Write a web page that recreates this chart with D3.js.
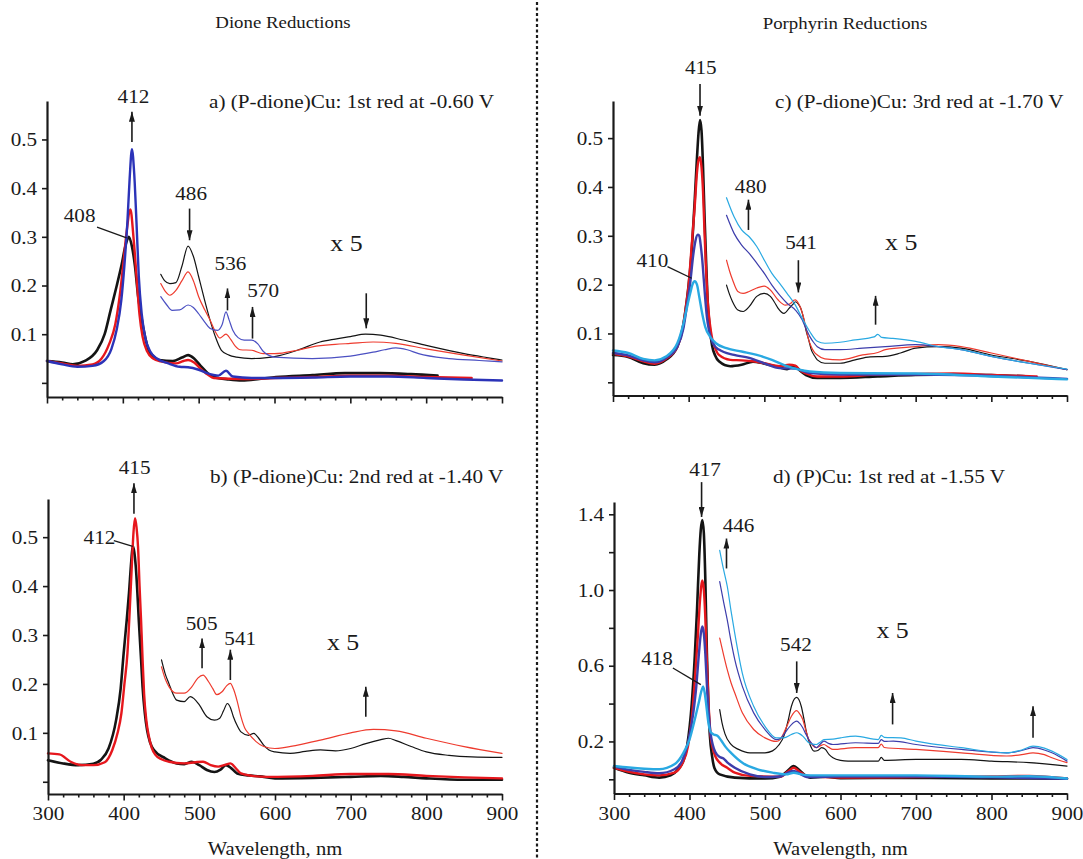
<!DOCTYPE html>
<html><head><meta charset="utf-8">
<script src="https://cdn.jsdelivr.net/npm/d3@7"></script>
<style>
body{margin:0;background:#fff;}
svg{display:block;}
text{font-family:"Liberation Serif","Times New Roman",serif;fill:#1a1a1a;}
</style></head><body>
<svg id="chart" width="1083" height="859"></svg>
<script>
// ---------------- DATA (wavelength nm, absorbance) ----------------
// Panel a: (P-dione)Cu 1st reduction
const aBlack = [[300,.045],[320,.042],[334,.038],[350,.045],[366,.067],[376,.1],[384,.15],[392,.2],[398,.24],[404,.285],[408,.30],[412,.28],[416,.24],[420,.18],[425,.13],[430,.09],[434,.067],[440,.055],[448,.047],[466,.045],[478,.052],[486,.057],[494,.05],[502,.036],[512,.02],[520,.012],[540,.007],[557,.005],[580,.008],[602,.012],[650,.016],[693,.02],[739,.02],[780,.018],[815,.015]];
const aRed = [[300,.045],[320,.04],[340,.035],[360,.038],[372,.05],[382,.08],[390,.12],[396,.18],[401,.25],[405,.31],[410,.356],[414,.3],[418,.22],[422,.14],[426,.095],[432,.065],[440,.05],[450,.044],[470,.04],[480,.045],[486,.047],[494,.042],[502,.03],[512,.017],[520,.01],[560,.008],[600,.01],[650,.012],[700,.015],[750,.015],[800,.012],[860,.01]];
const aBlue = [[300,.045],[320,.038],[340,.033],[360,.035],[375,.045],[385,.07],[392,.11],[398,.17],[402,.24],[406,.33],[409,.42],[412,.48],[415,.43],[418,.33],[421,.22],[425,.14],[430,.09],[436,.065],[445,.05],[460,.04],[475,.033],[486,.032],[500,.027],[515,.018],[526,.015],[536,.025],[545,.013],[570,.01],[600,.01],[650,.011],[700,.013],[750,.013],[800,.01],[850,.007],[900,.005]];
const aBlackX5 = [[450,.223],[455,.21],[462,.204],[470,.206],[478,.24],[486,.281],[493,.26],[500,.218],[507,.175],[515,.129],[522,.095],[530,.067],[540,.057],[550,.053],[570,.05],[590,.052],[600,.054],[630,.067],[660,.084],[680,.09],[700,.095],[720,.1],[740,.098],[770,.088],[800,.077],[850,.06],[880,.052],[900,.047]];
const aRedX5 = [[450,.204],[456,.188],[462,.18],[470,.19],[478,.21],[486,.228],[493,.21],[500,.177],[508,.15],[515,.129],[522,.105],[528,.092],[536,.10],[542,.09],[548,.076],[555,.068],[570,.067],[585,.06],[600,.06],[630,.067],[650,.074],[680,.079],[700,.081],[730,.084],[760,.081],[800,.07],[850,.057],[900,.045]];
const aBlueX5 = [[450,.177],[458,.16],[465,.149],[475,.15],[486,.16],[493,.155],[500,.142],[508,.125],[515,.112],[525,.108],[531,.12],[536,.146],[540,.13],[545,.108],[552,.093],[560,.088],[570,.088],[578,.08],[585,.065],[592,.057],[600,.053],[650,.05],[700,.055],[730,.063],[745,.068],[760,.072],[775,.068],[790,.06],[830,.05],[870,.046],[900,.043]];

// Panel b: (P-dione)Cu 2nd reduction
const bBlack = [[300,.044],[320,.0375],[340,.034],[360,.037],[370,.045],[380,.068],[390,.126],[396,.19],[400,.263],[404,.33],[407,.385],[410,.45],[412,.482],[414,.47],[416,.44],[418,.39],[420,.33],[423,.25],[425,.194],[428,.14],[431,.105],[435,.08],[440,.065],[455,.048],[470,.0375],[480,.036],[490,.041],[500,.034],[510,.024],[520,.02],[528,.025],[535,.034],[542,.028],[550,.017],[565,.013],[580,.011],[600,.007],[650,.008],[700,.01],[740,.012],[770,.01],[800,.007],[850,.004],[900,.004]];
const bRed = [[300,.058],[315,.056],[330,.041],[345,.034],[360,.034],[375,.04],[385,.065],[392,.1],[397,.14],[401,.2],[405,.263],[408,.35],[411,.45],[413,.51],[415,.539],[417,.52],[419,.48],[421,.4],[423,.33],[425,.25],[427,.18],[430,.125],[433,.095],[437,.07],[442,.055],[450,.046],[460,.041],[480,.0375],[495,.04],[505,.041],[515,.034],[525,.031],[535,.035],[541,.0375],[548,.028],[555,.017],[570,.012],[590,.01],[650,.012],[700,.016],[750,.016],[800,.012],[850,.009],[900,.007]];
const bBlackX5 = [[450,.249],[455,.22],[460,.2],[465,.18],[470,.167],[480,.164],[488,.174],[493,.17],[500,.157],[510,.133],[520,.126],[527,.13],[532,.145],[537,.16],[541,.152],[545,.133],[550,.115],[555,.102],[565,.095],[572,.099],[578,.09],[585,.075],[592,.065],[600,.061],[620,.058],[640,.062],[660,.065],[680,.063],[700,.068],[720,.078],[740,.086],[750,.089],[760,.084],[780,.072],[800,.061],[830,.054],[860,.051],[900,.05]];
const bRedX5 = [[450,.235],[455,.21],[460,.194],[470,.181],[480,.181],[490,.194],[498,.212],[505,.218],[512,.205],[518,.19],[523,.178],[530,.184],[536,.196],[541,.201],[545,.19],[550,.165],[555,.133],[560,.11],[565,.099],[575,.082],[585,.072],[600,.068],[630,.075],[660,.085],[700,.1],[730,.107],[760,.104],[800,.089],[850,.072],[900,.058]];

// Panel c: (P-dione)Cu 3rd reduction
const cBlack = [[300,.056],[320,.052],[340,.039],[355,.036],[370,.046],[385,.073],[392,.11],[396,.15],[400,.2],[404,.27],[408,.373],[411,.46],[413,.51],[415,.537],[417,.515],[419,.44],[421,.339],[423,.25],[425,.169],[428,.11],[431,.075],[435,.055],[440,.043],[455,.033],[470,.036],[485,.042],[495,.04],[505,.036],[515,.033],[530,.027],[537,.032],[541,.033],[547,.024],[555,.015],[570,.009],[600,.009],[650,.012],[700,.015],[750,.016],[800,.015],[850,.012]];
const cRed = [[300,.0585],[320,.053],[340,.043],[355,.038],[370,.048],[385,.073],[392,.11],[396,.15],[400,.2],[404,.28],[408,.36],[411,.43],[413,.455],[415,.461],[417,.44],[419,.39],[421,.305],[423,.23],[425,.169],[428,.12],[431,.09],[435,.07],[440,.056],[455,.046],[470,.045],[485,.043],[500,.039],[520,.033],[533,.036],[541,.034],[547,.025],[555,.018],[570,.012],[600,.012],[650,.016],[700,.017],[750,.018],[800,.015],[860,.012]];
const cBlue = [[300,.06],[320,.055],[340,.045],[355,.041],[370,.05],[385,.073],[393,.11],[398,.16],[402,.203],[406,.26],[409,.29],[412,.302],[414,.3],[416,.28],[418,.25],[420,.21],[422,.169],[424,.135],[427,.105],[432,.08],[440,.067],[460,.056],[480,.05],[500,.039],[520,.029],[541,.028],[560,.019],[600,.016],[700,.016],[800,.013],[900,.007]];
const cCyan = [[300,.065],[320,.06],[340,.048],[355,.045],[370,.053],[385,.08],[393,.12],[398,.155],[402,.182],[405,.2],[408,.207],[411,.2],[414,.175],[418,.14],[422,.113],[428,.094],[436,.08],[450,.07],[470,.063],[490,.056],[510,.046],[530,.033],[560,.022],[600,.019],[700,.018],[800,.012],[900,.006]];
const cBlackX5 = [[450,.199],[454,.18],[458,.165],[465,.148],[472,.145],[480,.155],[490,.176],[500,.182],[508,.176],[513,.165],[518,.152],[526,.141],[533,.152],[538,.16],[541,.165],[545,.16],[548,.152],[552,.13],[555,.107],[559,.085],[562,.067],[566,.055],[570,.046],[580,.039],[600,.039],[620,.046],[640,.052],[660,.053],[680,.06],[700,.07],[730,.073],[760,.07],[800,.056],[850,.043],[900,.026]];
const cRedX5 = [[450,.25],[454,.228],[458,.21],[465,.186],[472,.182],[480,.186],[490,.193],[500,.197],[508,.189],[518,.169],[528,.158],[535,.162],[539,.168],[541,.169],[545,.162],[548,.152],[552,.132],[555,.111],[558,.09],[562,.073],[566,.062],[570,.056],[580,.048],[600,.046],[630,.056],[650,.061],[660,.067],[700,.073],[730,.077],[760,.073],[800,.06],[850,.043],[900,.026]];
const cBlueX5 = [[450,.342],[460,.305],[470,.281],[480,.264],[490,.244],[500,.223],[510,.199],[520,.179],[530,.162],[541,.148],[550,.128],[555,.11],[560,.094],[565,.082],[570,.073],[580,.067],[600,.067],[630,.07],[660,.073],[700,.077],[730,.073],[760,.067],[800,.053],[850,.039],[900,.026]];
const cCyanX5 = [[450,.378],[460,.339],[470,.312],[480,.298],[490,.278],[500,.25],[510,.223],[520,.203],[530,.182],[541,.158],[550,.131],[560,.104],[570,.084],[580,.08],[600,.082],[620,.087],[645,.093],[650,.098],[655,.092],[670,.09],[700,.084],[730,.073],[760,.067],[800,.053],[850,.039],[900,.027]];

// Panel d: (P)Cu 1st reduction
const dBlack = [[300,.061],[320,.035],[340,.021],[360,.009],[375,.021],[385,.053],[392,.1],[397,.18],[403,.40],[407,.65],[410,.9],[413,1.19],[415,1.32],[417,1.37],[419,1.3],[421,1.05],[423,.67],[425,.4],[427,.23],[430,.12],[433,.06],[440,.026],[460,.009],[500,.004],[520,.014],[530,.045],[538,.07],[545,.05],[552,.025],[560,.009],[580,.014],[600,.006],[700,.007],[800,.005],[900,.003]];
const dRed = [[300,.061],[320,.04],[340,.026],[360,.021],[380,.035],[390,.079],[398,.175],[403,.32],[407,.52],[411,.754],[414,.95],[417,1.05],[419,1.0],[421,.85],[423,.62],[425,.42],[428,.228],[431,.16],[434,.123],[440,.088],[450,.061],[460,.035],[480,.018],[520,.014],[530,.04],[538,.061],[546,.04],[555,.018],[600,.009],[700,.012],[800,.015],[850,.018],[900,.004]];
const dBlue = [[300,.067],[320,.05],[340,.039],[360,.032],[380,.053],[390,.096],[398,.193],[405,.35],[409,.49],[412,.64],[415,.77],[417,.807],[419,.77],[421,.66],[423,.5],[425,.37],[428,.24],[431,.18],[434,.145],[440,.118],[445,.11],[450,.09],[460,.061],[480,.026],[500,.012],[520,.015],[530,.035],[538,.044],[546,.03],[555,.012],[600,.014],[700,.014],[800,.01],[900,.003]];
const dCyan = [[300,.07],[320,.062],[340,.056],[360,.053],[380,.079],[392,.14],[400,.21],[407,.316],[412,.40],[416,.47],[418,.49],[420,.46],[422,.40],[425,.3],[428,.25],[432,.237],[437,.23],[442,.205],[448,.17],[455,.14],[470,.088],[490,.053],[510,.035],[528,.026],[538,.035],[548,.026],[560,.021],[600,.021],[700,.021],[800,.014],[850,.016],[900,.004]];
const dBlackX5 = [[440,.368],[443,.3],[447,.24],[455,.184],[465,.158],[480,.14],[500,.14],[510,.15],[518,.18],[525,.228],[530,.3],[535,.386],[539,.425],[542,.433],[545,.42],[548,.386],[552,.31],[555,.246],[560,.18],[565,.149],[570,.152],[575,.167],[580,.158],[585,.13],[590,.114],[600,.1],[610,.096],[650,.096],[654,.116],[658,.1],[700,.105],[760,.105],[800,.096],[850,.088],[900,.07]];
const dRedX5 = [[440,.746],[445,.66],[450,.579],[455,.51],[460,.456],[470,.351],[485,.263],[500,.219],[515,.2],[520,.21],[525,.246],[530,.29],[535,.333],[542,.363],[546,.345],[550,.316],[554,.26],[558,.21],[563,.18],[568,.167],[573,.176],[578,.184],[584,.17],[590,.158],[620,.167],[650,.167],[654,.186],[658,.168],[700,.158],[760,.14],[820,.123],[840,.13],[855,.14],[870,.13],[880,.114],[900,.088]];
const dBlueX5 = [[440,1.044],[445,.94],[450,.842],[455,.73],[460,.632],[470,.491],[485,.351],[500,.263],[515,.21],[520,.215],[525,.237],[530,.265],[535,.289],[542,.307],[546,.295],[550,.272],[554,.24],[558,.21],[563,.185],[568,.167],[573,.185],[578,.202],[584,.19],[590,.184],[620,.193],[650,.19],[654,.21],[658,.2],[670,.202],[700,.184],[760,.158],[820,.14],[840,.152],[855,.167],[870,.155],[880,.14],[900,.096]];
const dCyanX5 = [[440,1.21],[445,1.11],[450,1.02],[455,.89],[460,.77],[470,.56],[485,.386],[500,.28],[515,.219],[525,.219],[535,.237],[542,.246],[546,.24],[550,.228],[554,.21],[558,.193],[563,.186],[568,.184],[573,.196],[578,.21],[590,.212],[600,.219],[620,.228],[650,.21],[654,.232],[658,.222],[680,.219],[700,.202],[760,.167],[820,.14],[840,.155],[855,.175],[870,.165],[880,.149],[900,.105]];

// Axis ticks
const xMajorTicks = [300,400,500,600,700,800,900];
const xMinorTicks = [320,340,360,380,420,440,460,480,520,540,560,580,620,640,660,680,720,740,760,780,820,840,860,880];
const yTicksSmall = [0,0.1,0.2,0.3,0.4,0.5];
const yLabelsSmall = [0.1,0.2,0.3,0.4,0.5];
const yTicksBig = [0,0.2,0.4,0.6,0.8,1.0,1.2,1.4];
const yLabelsBig = [0.2,0.6,1.0,1.4];

// Titles and annotations [text, wavelength, absorbance]
const panelTitles = ["a) (P-dione)Cu: 1st red at -0.60 V","b) (P-dione)Cu: 2nd red at -1.40 V","c) (P-dione)Cu: 3rd red at -1.70 V","d) (P)Cu: 1st red at -1.55 V"];
const aLabels = [["412",414,.574],["408",343,.33],["486",490,.375],["536",542,.232],["570",585,.177]];
const aArrows = [[412,.495,.557],[488,.358,.293],[538,.149,.194],[571,.091,.156],[721,.184,.112]];
const aLeaders = [[366,.32,405,.298]];
const aX5 = [695,.27];
const bLabels = [["415",414.5,.63],["412",368,.486],["505",503,.31],["541",554,.28]];
const bArrows = [[413.6,.548,.61],[503.6,.232,.293],[541,.208,.27],[720,.133,.194]];
const bLeaders = [[387,.493,412,.481]];
const bX5 = [690,.27];
const cLabels = [["415",416,.631],["410",352,.237],["480",482,.388],["541",548.5,.272]];
const cArrows = [[415,.611,.546],[479,.312,.374],[545,.25,.184],[647,.118,.177]];
const cLeaders = [[372,.237,404,.213]];
const cX5 = [681,.271];
const dLabels = [["417",420.6,1.6],["446",465,1.307],["418",357,.605],["542",541,.68]];
const dArrows = [[416,1.57,1.386],[449,1.114,1.272],[542,.623,.456],[669,.29,.456],[855,.219,.386]];
const dLeaders = [[378,.588,415,.5]];
const dX5 = [669,.746];

// ---------------- DRAWING ----------------
const C = {black:"#141414", red:"#e6171d", redThin:"#ee3b2e", blue:"#2b33b8", blueThin:"#4b50c2", indigo:"#3d3dab", cyan:"#29a9e2"};
const SX = 1.09; // horizontal stretch of the original scan
const FS = 1.08; // font size factor
const svg = d3.select("#chart");
svg.append("rect").attr("width",1083).attr("height",859).attr("fill","#fff");
const defs = svg.append("defs");
defs.append("marker").attr("id","ah").attr("viewBox","0 0 10 6").attr("refX",10).attr("refY",3)
  .attr("markerWidth",10).attr("markerHeight",6).attr("markerUnits","userSpaceOnUse").attr("orient","auto")
  .append("path").attr("d","M0,0L10,3L0,6z").attr("fill","#1a1a1a");

function txt(g, x, y, s, size, anchor){
  return g.append("text").attr("transform",`translate(${x},${y}) scale(${SX},1)`)
    .attr("text-anchor",anchor||"start").style("font-size",(size*FS)+"px").text(s);
}

const panels = [
  {left:47,right:502,top:101,bottom:397,yDomain:[-0.029,0.579],yTicks:yTicksSmall,yLabels:yLabelsSmall,xLabels:false,
   title:[panelTitles[0],209,108],
   series:[[aBlack,C.black,2.6],[aRed,C.red,2.4],[aBlue,C.blue,2.4],[aBlackX5,C.black,1.2],[aRedX5,C.redThin,1.2],[aBlueX5,C.blueThin,1.2]],
   labels:aLabels,arrows:aArrows,leaders:aLeaders,x5:aX5},
  {left:48,right:502,top:499,bottom:794,yDomain:[-0.025,0.578],yTicks:yTicksSmall,yLabels:yLabelsSmall,xLabels:true,
   title:[panelTitles[1],210,483],
   series:[[bBlack,C.black,2.6],[bRed,C.red,2.4],[bBlackX5,C.black,1.2],[bRedX5,C.redThin,1.2]],
   labels:bLabels,arrows:bArrows,leaders:bLeaders,x5:bX5},
  {left:613,right:1067,top:101,bottom:395.5,yDomain:[-0.027,0.576],yTicks:yTicksSmall,yLabels:yLabelsSmall,xLabels:false,
   title:[panelTitles[2],775,108],
   series:[[cBlack,C.black,2.6],[cRed,C.red,2.4],[cBlue,C.indigo,2.4],[cCyan,C.cyan,2.4],[cBlackX5,C.black,1.2],[cRedX5,C.redThin,1.2],[cBlueX5,C.indigo,1.2],[cCyanX5,C.cyan,1.2]],
   labels:cLabels,arrows:cArrows,leaders:cLeaders,x5:cX5},
  {left:614,right:1067,top:502,bottom:793.5,yDomain:[-0.075,1.465],yTicks:yTicksBig,yLabels:yLabelsBig,xLabels:true,
   title:[panelTitles[3],773,483],
   series:[[dBlack,C.black,2.6],[dRed,C.red,2.4],[dBlue,C.indigo,2.4],[dCyan,C.cyan,2.4],[dBlackX5,C.black,1.2],[dRedX5,C.redThin,1.2],[dBlueX5,C.indigo,1.2],[dCyanX5,C.cyan,1.2]],
   labels:dLabels,arrows:dArrows,leaders:dLeaders,x5:dX5}
];

panels.forEach(p => {
  const x = d3.scaleLinear().domain([300,900]).range([p.left,p.right]);
  const y = d3.scaleLinear().domain(p.yDomain).range([p.bottom,p.top]);
  const g = svg.append("g");

  // curves
  const line = d3.line().x(d=>x(d[0])).y(d=>y(d[1])).curve(d3.curveMonotoneX);
  p.series.forEach(([data,color,w]) => {
    g.append("path").attr("d",line(data)).attr("fill","none").attr("stroke",color)
      .attr("stroke-width",w).attr("stroke-linejoin","round").attr("stroke-linecap","round");
  });

  // y axis
  const ya = g.append("g").attr("transform",`translate(${p.left},0)`)
    .call(d3.axisLeft(y).tickValues(p.yTicks).tickSize(5).tickSizeOuter(0).tickPadding(4)
      .tickFormat(v => p.yLabels.some(l=>Math.abs(l-v)<1e-9) ? d3.format(".1f")(v) : ""));
  // x axis major + minor
  const xa = g.append("g").attr("transform",`translate(0,${p.bottom})`)
    .call(d3.axisBottom(x).tickValues(xMajorTicks).tickSize(6.5).tickSizeOuter(0).tickPadding(6)
      .tickFormat(v => p.xLabels ? d3.format("d")(v) : ""));
  const xm = g.append("g").attr("transform",`translate(0,${p.bottom})`)
    .call(d3.axisBottom(x).tickValues(xMinorTicks).tickSize(3.5).tickFormat(""));
  xm.select(".domain").remove();
  [ya,xa,xm].forEach(a => {
    a.selectAll(".domain").attr("stroke","#1a1a1a").attr("stroke-width",2.2);
    a.selectAll(".tick line").attr("stroke","#1a1a1a").attr("stroke-width",1.6);
    a.selectAll("text").style("font-size",(18*FS)+"px").style("font-family",'"Liberation Serif",serif')
      .attr("fill","#1a1a1a").attr("transform",`scale(${SX},1)`);
  });

  // title
  txt(g, p.title[1], p.title[2], p.title[0], 18, "start");
  // labels
  p.labels.forEach(([s,wl,v]) => txt(g, x(wl), y(v), s, 18, "middle"));
  // arrows
  p.arrows.forEach(([wl,v1,v2]) => {
    g.append("line").attr("x1",x(wl)).attr("x2",x(wl)).attr("y1",y(v1)).attr("y2",y(v2))
      .attr("stroke","#1a1a1a").attr("stroke-width",1.6).attr("marker-end","url(#ah)");
  });
  // leader lines
  p.leaders.forEach(([w1,v1,w2,v2]) => {
    g.append("line").attr("x1",x(w1)).attr("y1",y(v1)).attr("x2",x(w2)).attr("y2",y(v2))
      .attr("stroke","#1a1a1a").attr("stroke-width",1.3);
  });
  // x 5
  txt(g, x(p.x5[0]), y(p.x5[1]), "x 5", 22, "middle");
  // x label
  if (p.xLabels) txt(g, (p.left+p.right)/2, 855, "Wavelength, nm", 17.5, "middle");
});

// section headers
txt(svg, 283, 28, "Dione Reductions", 16, "middle");
txt(svg, 845, 29, "Porphyrin Reductions", 16, "middle");

// dotted divider
svg.append("line").attr("x1",537).attr("x2",537).attr("y1",2).attr("y2",859)
  .attr("stroke","#1a1a1a").attr("stroke-width",2.2).attr("stroke-dasharray","3,2.5");
</script>
</body></html>
